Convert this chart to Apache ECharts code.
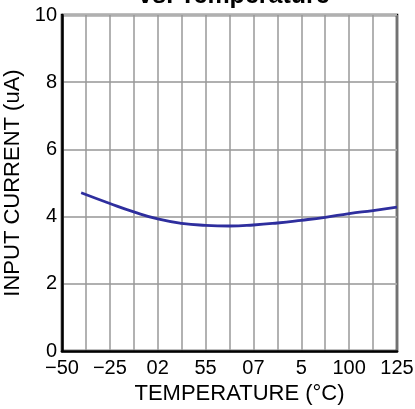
<!DOCTYPE html>
<html><head><meta charset="utf-8">
<script src="https://cdn.jsdelivr.net/npm/echarts@6/dist/echarts.min.js"></script>
<style>html,body{margin:0;padding:0;background:#fff}#c{width:415px;height:409px}</style>
</head><body><div id="c"></div>
<script>
var temps = [-40, -25, -12.5, 0, 12.5, 25, 37.5, 50, 62.5, 75, 87.5, 100, 112.5, 125];
var current = [4.71, 4.39, 4.14, 3.93, 3.80, 3.74, 3.72, 3.75, 3.81, 3.89, 3.98, 4.09, 4.18, 4.28];
var xTickLabels = {"-50": "\u221250", "-25": "\u221225", "0": "02", "25": "55", "50": "07", "75": "5", "100": "100", "125": "125"};
var yTickLabels = [0, 2, 4, 6, 8, 10];
var FONT = "Liberation Sans";

var chart = echarts.init(document.getElementById('c'), null, {renderer: 'canvas'});
chart.setOption({
  animation: false,
  title: {
    text: 'vs. Temperature', left: 229, top: -21, textAlign: 'center',
    textStyle: {fontFamily: FONT, fontSize: 25, fontWeight: 'bold', color: '#000'}
  },
  grid: {left: 62, right: 18, top: 15, bottom: 58, containLabel: false, outerBoundsMode: 'none',
    show: true, borderColor: '#000', borderWidth: 2.5, backgroundColor: 'transparent'},
  xAxis: {
    type: 'value', min: -50, max: 125, interval: 12.5,
    name: 'TEMPERATURE (\u00b0C)', nameLocation: 'middle', nameGap: 26,
    nameTextStyle: {fontFamily: FONT, fontSize: 22, color: '#000', padding: [0, 0, 0, 20]},
    axisLine: {show: true, onZero: false, lineStyle: {color: '#000', width: 2.5}},
    axisTick: {show: false},
    axisLabel: {
      fontFamily: FONT, fontSize: 20, color: '#000', margin: 7, showMinLabel: true, showMaxLabel: true,
      formatter: function (v) { var k = String(v); return xTickLabels.hasOwnProperty(k) ? xTickLabels[k] : ''; }
    },
    splitLine: {show: true, lineStyle: {color: '#999', width: 1.5}}
  },
  yAxis: {
    type: 'value', min: 0, max: 10, interval: 2,
    name: 'INPUT CURRENT (uA)', nameLocation: 'middle', nameGap: 29,
    nameTextStyle: {fontFamily: FONT, fontSize: 22, color: '#000'},
    axisLine: {show: true, onZero: false, lineStyle: {color: '#000', width: 2.5}},
    axisTick: {show: false},
    axisLabel: {
      fontFamily: FONT, fontSize: 20, color: '#000', margin: 5,
      formatter: function (v) { return yTickLabels.indexOf(v) >= 0 ? String(v) : ''; }
    },
    splitLine: {show: true, lineStyle: {color: '#b0b0b0', width: 2}}
  },
  series: [{
    type: 'line', smooth: true, showSymbol: false,
    data: temps.map(function (t, i) { return [t, current[i]]; }),
    lineStyle: {color: '#2e2e9e', width: 2.8}
  }]
});
</script></body></html>
